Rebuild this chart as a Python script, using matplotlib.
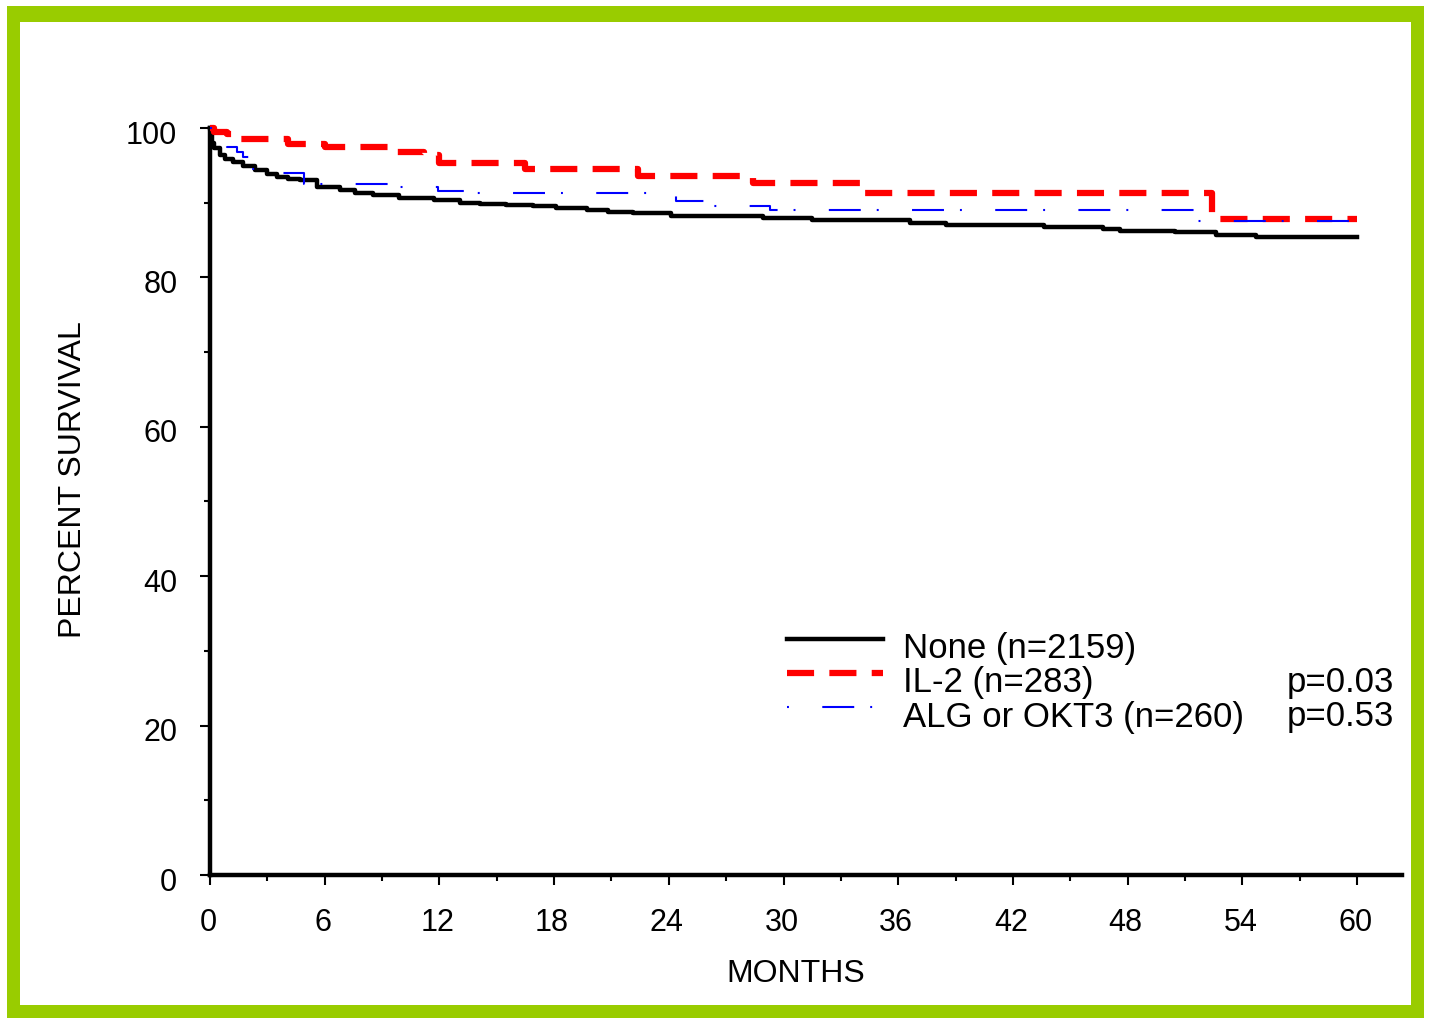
import numpy as np
import matplotlib.pyplot as plt
from matplotlib.patches import Rectangle
from matplotlib.ticker import MultipleLocator
from matplotlib.legend_handler import HandlerLine2D
from matplotlib.transforms import ScaledTranslation

plt.rcParams['font.family'] = ['Liberation Sans', 'DejaVu Sans']
plt.rcParams['lines.scale_dashes'] = False

# Kaplan-Meier step values (months, percent surviving)
none_t = [0, 0.05, 0.1, 0.2, 0.52, 0.8, 1.2, 1.7, 2.35, 3.0, 3.5, 4.1, 4.7, 5.6, 6.8, 7.6,
          8.5, 9.9, 11.7, 13.1, 14.1, 15.5, 16.9, 18.1, 19.7, 20.8, 22.1, 24.1, 28.9, 31.5,
          36.6, 38.5, 43.6, 46.7, 47.6, 50.5, 52.6, 54.7, 60]
none_s = [100, 99.0, 98.0, 97.3, 96.4, 95.9, 95.4, 94.9, 94.4, 93.9, 93.4, 93.2, 93.0, 92.1, 91.7, 91.3,
          91.0, 90.6, 90.4, 90.0, 89.8, 89.7, 89.6, 89.3, 89.0, 88.8, 88.6, 88.2, 88.0, 87.7,
          87.3, 87.0, 86.7, 86.5, 86.2, 86.1, 85.7, 85.4, 85.4]

il2_t = [0, 0.2, 0.9, 1.5, 4.1, 6.0, 9.8, 11.2, 12.0, 16.5, 22.4, 28.4, 34.0, 52.4, 60]
il2_s = [100, 99.5, 99.2, 98.5, 97.9, 97.5, 96.8, 96.4, 95.3, 94.5, 93.6, 92.6, 91.3, 87.8, 87.8]

alg_t = [0, 0.25, 0.9, 1.4, 1.7, 2.2, 3.3, 4.9, 9.9, 11.9, 13.6, 24.4, 25.9, 29.3, 51.5, 60]
alg_s = [100, 99.5, 97.5, 96.8, 96.1, 94.5, 94.0, 92.5, 92.1, 91.6, 91.3, 90.2, 89.6, 89.0, 87.6, 87.6]

labels = ['None (n=2159)', 'IL-2 (n=283)', 'ALG or OKT3 (n=260)']
pvals = ['p=0.03', 'p=0.53']


class RaisedLine(HandlerLine2D):
    # legend keys sit a little above the middle of the text, like the original
    def create_artists(self, legend, orig_handle, xdescent, ydescent, width, height, fontsize, trans):
        arts = super().create_artists(legend, orig_handle, xdescent, ydescent, width, height, fontsize, trans)
        for a in arts:
            a.set_ydata(np.asarray(a.get_ydata()) + 0.3 * height)
        return arts


W, H = 1429, 1021
fig = plt.figure(figsize=(W / 100, H / 100), dpi=100)

# green frame
fig.patches.append(Rectangle((7 / W, 1 - 1018 / H), (1424 - 7) / W, (1018 - 6) / H,
                             transform=fig.transFigure, facecolor='#99CC00', edgecolor='none', zorder=-2))
fig.patches.append(Rectangle((20 / W, 1 - 1005 / H), (1411 - 20) / W, (1005 - 22) / H,
                             transform=fig.transFigure, facecolor='white', edgecolor='none', zorder=-1))

ax = fig.add_axes([210 / W, 1 - 875 / H, 1192 / W, 747 / H])
ax.set_zorder(1)
ax.patch.set_visible(False)

l1, = ax.plot(none_t, none_s, drawstyle='steps-post', color='black', lw=3.2, clip_on=False, zorder=3)
l3, = ax.plot(alg_t, alg_s, drawstyle='steps-post', color='#0000FF', lw=1.5, clip_on=False, zorder=5,
              dashes=(1.4, 24, 23, 11.5))
l2, = ax.plot(il2_t, il2_s, drawstyle='steps-post', color='#FF0000', lw=4.5, clip_on=False, zorder=4,
              dashes=(19.5, 11))

ax.set_xlim(0, 62.35)
ax.set_ylim(0, 100)
ax.spines['top'].set_visible(False)
ax.spines['right'].set_visible(False)
ax.spines['left'].set_linewidth(3.2)
ax.spines['bottom'].set_linewidth(3.2)

ax.xaxis.set_major_locator(MultipleLocator(6))
ax.xaxis.set_minor_locator(MultipleLocator(3))
ax.yaxis.set_major_locator(MultipleLocator(20))
ax.yaxis.set_minor_locator(MultipleLocator(10))
ax.tick_params(axis='both', which='major', length=7.5, width=1.5, labelsize=22, direction='out')
ax.tick_params(axis='both', which='minor', length=4, width=1.5, direction='out')
ax.tick_params(axis='x', which='major', pad=16)
ax.tick_params(axis='y', which='major', pad=16)

# labels in the original sit a few pixels lower / left of their ticks
for lab in ax.get_yticklabels():
    lab.set_transform(lab.get_transform() + ScaledTranslation(0, -4 / 100, fig.dpi_scale_trans))
for lab in ax.get_xticklabels():
    lab.set_transform(lab.get_transform() + ScaledTranslation(-2 / 100, 0, fig.dpi_scale_trans))

ax.set_xlabel('MONTHS', fontsize=23)
ax.set_ylabel('PERCENT SURVIVAL', fontsize=23)
ax.xaxis.set_label_coords(0.4916, -0.112)
ax.yaxis.set_label_coords(-0.102, 0.529)

ax.legend([l1, l2, l3], labels, loc='upper left', bbox_to_anchor=(787 / W, 1 - 632 / H),
          bbox_transform=fig.transFigure, frameon=False, fontsize=25, handlelength=2.77,
          handletextpad=0.58, labelspacing=0.04, borderpad=0, borderaxespad=0,
          handler_map={l1: RaisedLine(), l2: RaisedLine(), l3: RaisedLine()})

fig.text(1287 / W, 1 - 692 / H, pvals[0], fontsize=25, va='baseline', ha='left')
fig.text(1287 / W, 1 - 726 / H, pvals[1], fontsize=25, va='baseline', ha='left')

fig.savefig('out.png', dpi=100)
